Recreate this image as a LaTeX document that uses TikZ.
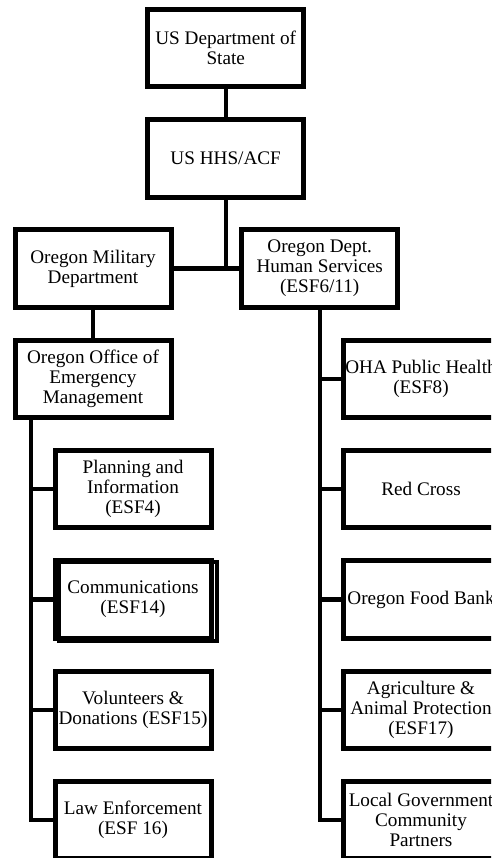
\documentclass[tikz,border=0pt]{standalone}
\usepackage{fontspec}
\setmainfont{Liberation Serif}
\usetikzlibrary{positioning}

\begin{document}
\begin{tikzpicture}[
    x=1pt, y=-1pt,
    node distance=110.3pt,
    box/.style={draw, line width=5pt, rectangle, outer sep=0pt, inner sep=0pt,
                minimum width=156pt, minimum height=77.5pt,
                font=\fontsize{19.2pt}{20pt}\selectfont, align=center},
    link/.style={line width=4.3pt},
  ]
  \useasboundingbox (0,0) rectangle (491,858);
  \clip (0,0) rectangle (491,858);
  % federal level
  \node[box] (state) at (225.7,48) {US Department of\\State};
  \node[box, below of=state] (hhs) {US HHS/ACF};
  % state level
  \node[box, below of=hhs, xshift=-132.7pt] (omd) {Oregon Military\\Department};
  \node[box, below of=hhs, xshift=94pt] (dhs)
    {Oregon Dept.\\Human Services\\(ESF6/11)};
  \node[box, below of=omd] (ooem) {Oregon Office of\\Emergency\\Management};
  % left column
  \node[box, below of=ooem, xshift=40pt] (plan) {Planning and\\Information\\(ESF4)};
  \node[box, below of=plan] (comm) {Communications\\(ESF14)};
  \node[box, below of=comm] (vol) {Volunteers \&\\Donations (ESF15)};
  \node[box, below of=vol] (law) {Law Enforcement\\(ESF 16)};
  % right column
  \node[box, below of=dhs, xshift=101.3pt] (oha) {OHA Public Health\\(ESF8)};
  \node[box, below of=oha] (red) {Red Cross};
  \node[box, below of=red] (food) {Oregon Food Bank};
  \node[box, below of=food] (agri) {Agriculture \&\\Animal Protection\\(ESF17)};
  \node[box, below of=agri] (local) {Local Government\\Community\\Partners};
  \draw[line width=4pt] ([shift={(4,1)}]comm.north west)
    rectangle ([shift={(6,3)}]comm.south east);
  % connectors
  \draw[link] (state) -- (hhs);
  \draw[link] (hhs) -- (hhs |- omd.east);
  \draw[link] (omd) -- (dhs);
  \draw[link] (omd) -- (ooem);
  \coordinate[xshift=16pt] (ltrunk) at (ooem.south west);
  \draw[link] (ltrunk) |- (law.west);
  \foreach \n in {plan, comm, vol}
    \draw[link] (ltrunk |- \n.west) -- (\n.west);
  \draw[link] (dhs.south) |- (local.west);
  \foreach \n in {oha, red, food, agri}
    \draw[link] (dhs.south |- \n.west) -- (\n.west);
\end{tikzpicture}
\end{document}
